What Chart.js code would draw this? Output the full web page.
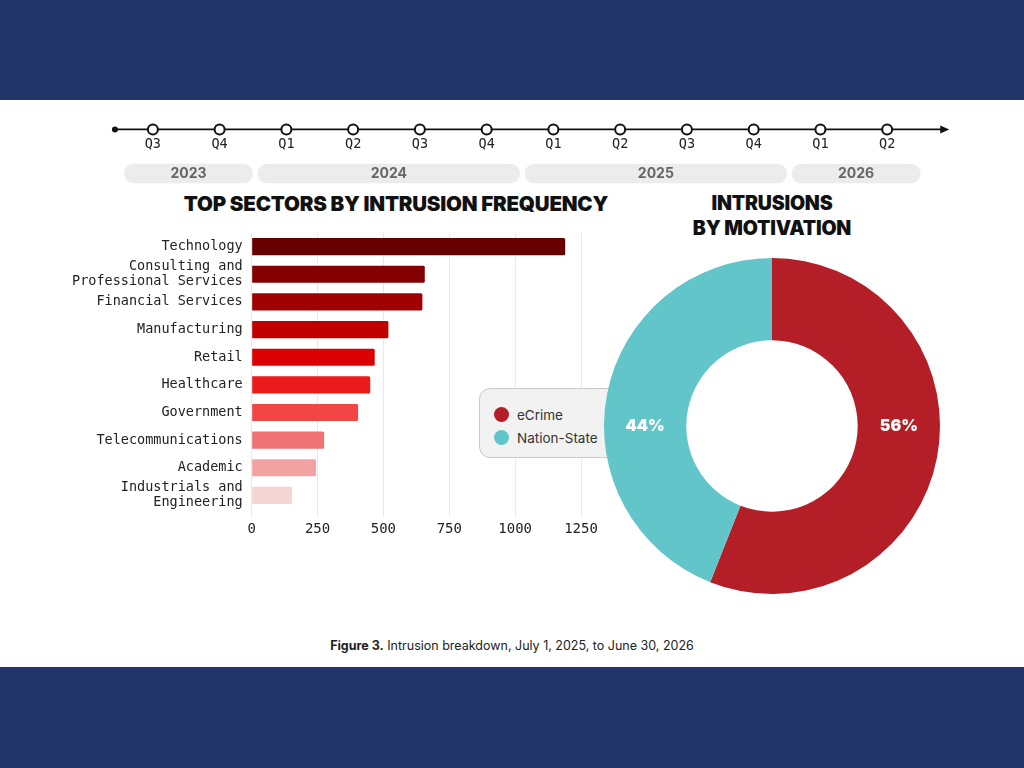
<!DOCTYPE html>
<html><head><meta charset="utf-8">
<script src="https://cdn.jsdelivr.net/npm/chart.js@4"></script>
<style>
html,body{margin:0;padding:0;width:1024px;height:768px;background:#22356b;overflow:hidden;font-family:Inter,"Noto Sans",sans-serif}
#panel{position:absolute;left:0;top:100px;width:1024px;height:567px;background:#fff}
.abs{position:absolute}
#t1{left:96px;top:191px;width:600px;text-align:center;font-weight:900;font-size:20.5px;line-height:26px;color:#111;letter-spacing:-0.2px}
#t2{left:622px;top:191px;width:300px;text-align:center;font-weight:900;font-size:19.5px;line-height:25px;color:#111;letter-spacing:-0.2px}
#cap{left:0;top:637px;width:1024px;text-align:center;font-size:12.5px;color:#222;line-height:18px}
#cap b{font-weight:700}
#legend{left:479px;top:388px;width:150px;height:70px;background:#f2f2f2;border:1.5px solid #c9c9c9;border-radius:11px;box-sizing:border-box;padding:14px 0 0 14px;z-index:2}
.li{display:flex;align-items:center;height:23px;font-size:13.5px;color:#333}
.dot{width:15px;height:15px;border-radius:50%;margin-right:8px}
#cBar{left:71px;top:217px;z-index:1}
#cPie{left:602px;top:256px;z-index:3}
#cTime{left:94px;top:94px;z-index:1}
</style></head>
<body>
<div id="panel"></div>
<canvas id="cTime" class="abs" width="872" height="112"></canvas>
<div id="t1" class="abs">TOP SECTORS BY INTRUSION FREQUENCY</div>
<div id="t2" class="abs">INTRUSIONS<br>BY MOTIVATION</div>
<canvas id="cBar" class="abs" width="560" height="325"></canvas>
<div id="legend" class="abs"></div>
<canvas id="cPie" class="abs" width="340" height="340"></canvas>
<div id="cap" class="abs"><b>Figure 3.</b> Intrusion breakdown, July 1, 2025, to June 30, 2026</div>
<script>
// ---- data ----
const quarterLabels = ['Q3','Q4','Q1','Q2','Q3','Q4','Q1','Q2','Q3','Q4','Q1','Q2'];
const yearLabels = ['2023','2024','2025','2026'];
const yearFirstQuarter = [0,2,6,10];
const yearLastQuarter = [1,5,9,11];

const sectors = [
  'Technology',
  ['Consulting and','Professional Services'],
  'Financial Services',
  'Manufacturing',
  'Retail',
  'Healthcare',
  'Government',
  'Telecommunications',
  'Academic',
  ['Industrials and','Engineering']
];
const sectorIntrusions = [1190, 657, 648, 519, 467, 450, 404, 275, 244, 153];
const xTicks = [0, 250, 500, 750, 1000, 1250];

const motivations = ['eCrime', 'Nation-State'];
const motivationShare = [56, 44];

// ---- styles ----
const barColors = ['#670000','#820000','#a10000','#c00000','#dc0000','#ec1b1b','#f04646','#f07272','#f3a1a2','#f7d4d4'];
const pieColors = ['#b31e27','#62c5c9'];
const monoFont = '"DejaVu Sans Mono", "Liberation Mono", monospace';

// ---- timeline ----
const tlMin = -0.777, tlMax = 12.076;
new Chart(document.getElementById('cTime'), {
  type: 'scatter',
  data: { datasets: [{
    data: quarterLabels.map((q, i) => ({x: i, y: 0})),
    pointRadius: 5, pointHoverRadius: 5, pointBorderWidth: 2,
    pointBackgroundColor: '#fff', pointBorderColor: '#111', showLine: false
  }]},
  options: {
    responsive: false, animation: false, events: [],
    layout: { padding: 0 },
    plugins: { legend: {display:false}, tooltip: {enabled:false} },
    scales: {
      x: { type: 'linear', display: false, min: tlMin, max: tlMax },
      y: { display: false, min: -71, max: 29 }
    }
  },
  plugins: [{
    id: 'timeline',
    beforeDatasetsDraw(chart) {
      const {ctx, scales: {x, y}} = chart;
      const y0 = y.getPixelForValue(0);
      const xs = x.getPixelForValue(-0.568), xe = x.getPixelForValue(11.93);
      ctx.save();
      ctx.strokeStyle = '#111'; ctx.lineWidth = 1.6;
      ctx.beginPath(); ctx.moveTo(xs, y0); ctx.lineTo(xe - 6, y0); ctx.stroke();
      ctx.fillStyle = '#111';
      ctx.beginPath(); ctx.arc(xs, y0, 3, 0, Math.PI*2); ctx.fill();
      ctx.beginPath(); ctx.moveTo(xe, y0); ctx.lineTo(xe - 9, y0 - 4); ctx.lineTo(xe - 9, y0 + 4); ctx.closePath(); ctx.fill();
      // quarter labels
      ctx.font = '13.5px ' + monoFont;
      ctx.textAlign = 'center'; ctx.textBaseline = 'middle';
      ctx.fillStyle = '#222';
      quarterLabels.forEach((q, i) => ctx.fillText(q, x.getPixelForValue(i), y.getPixelForValue(-15)));
      // year pills
      yearLabels.forEach((yr, k) => {
        const a = x.getPixelForValue(yearFirstQuarter[k] - 0.43);
        const b = x.getPixelForValue(yearLastQuarter[k] + 0.5);
        const top = y.getPixelForValue(-35), bot = y.getPixelForValue(-55);
        const r = (bot - top) / 2;
        ctx.fillStyle = '#ececec';
        ctx.beginPath();
        ctx.roundRect(a, top, b - a, bot - top, r);
        ctx.fill();
        ctx.fillStyle = '#666';
        ctx.font = 'bold 14px Inter, sans-serif';
        ctx.fillText(yr, (a + b) / 2, (top + bot) / 2 + 0.5);
      });
      ctx.restore();
    }
  }]
});

// ---- bar chart ----
new Chart(document.getElementById('cBar'), {
  type: 'bar',
  data: { labels: sectors, datasets: [{
    data: sectorIntrusions, backgroundColor: barColors,
    categoryPercentage: 0.62, barPercentage: 1, borderRadius: 1.5
  }]},
  options: {
    indexAxis: 'y', responsive: false, animation: false, events: [],
    layout: { padding: { top: 6, right: 50, bottom: 0, left: 0 } },
    plugins: { legend: {display:false}, tooltip: {enabled:false} },
    scales: {
      x: {
        min: 0, max: 1250,
        afterBuildTicks(s) { s.ticks = xTicks.map(v => ({value: v})); },
        grid: { color: '#e9e9e9', lineWidth: 1, tickLength: 8, drawTicks: true },
        border: { display: false },
        ticks: { font: { family: monoFont, size: 14 }, color: '#222', padding: 4,
                 callback: (v) => String(v) }
      },
      y: {
        grid: { display: false },
        border: { display: false },
        ticks: { autoSkip: false, font: { family: monoFont, size: 13.5, lineHeight: 1.1 }, color: '#222', padding: 1 }
      }
    }
  }
});

// ---- legend ----
const lg = document.getElementById('legend');
motivations.forEach((m, i) => {
  const d = document.createElement('div'); d.className = 'li';
  d.innerHTML = '<span class="dot" style="background:' + pieColors[i] + '"></span>' + m;
  lg.appendChild(d);
});

// ---- doughnut ----
new Chart(document.getElementById('cPie'), {
  type: 'doughnut',
  data: { labels: motivations, datasets: [{
    data: motivationShare, backgroundColor: pieColors, borderWidth: 0
  }]},
  options: {
    responsive: false, animation: false, events: [],
    cutout: '51%', layout: { padding: 2 },
    plugins: { legend: {display:false}, tooltip: {enabled:false} }
  },
  plugins: [{
    id: 'pct',
    afterDatasetsDraw(chart) {
      const {ctx} = chart;
      const meta = chart.getDatasetMeta(0);
      ctx.save();
      ctx.font = '900 16px Inter, sans-serif';
      ctx.fillStyle = '#fff'; ctx.textAlign = 'center'; ctx.textBaseline = 'middle';
      meta.data.forEach((arc, i) => {
        const p = arc.getProps(['x','y','innerRadius','outerRadius']);
        const rm = (p.innerRadius + p.outerRadius) / 2;
        const dir = i === 0 ? 1 : -1;
        ctx.fillText(motivationShare[i] + '%', p.x + dir * rm, p.y);
      });
      ctx.restore();
    }
  }]
});
</script>
</body></html>
